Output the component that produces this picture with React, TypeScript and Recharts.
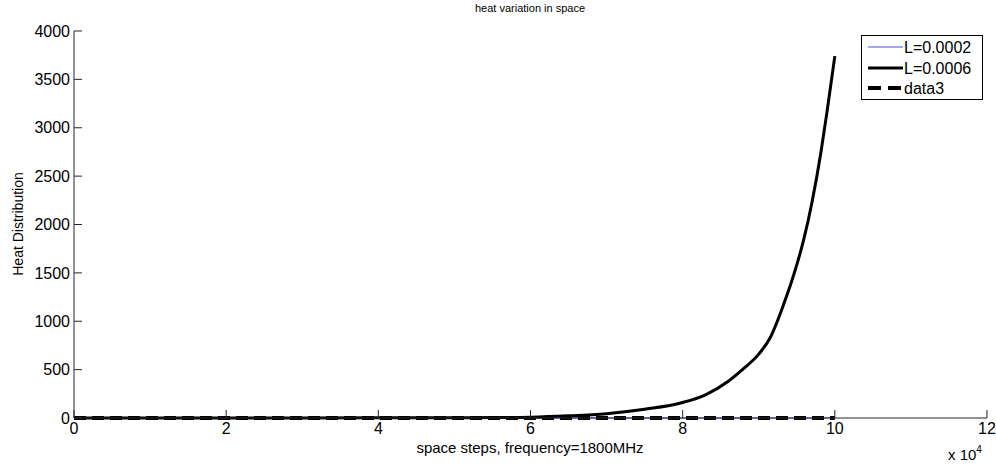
import { LineChart, Line, XAxis, YAxis } from "recharts";

// space steps (raw units, axis shows them as x 10^4)
const steps = [0, 10000, 20000, 30000, 40000, 50000, 55000, 60000, 65000, 70000, 75000, 80000, 83000, 86000, 88000, 90000, 91500, 93300, 94600, 95900, 97000, 98200, 99000, 100000];
const heatL2 = steps.map(() => 0);
const heatL6 = [0, 0, 0.5, 1, 2, 3, 4, 8, 22, 45, 90, 160, 240, 380, 510, 660, 830, 1180, 1480, 1840, 2230, 2760, 3180, 3740];
const data3 = steps.map(() => 0);

const xTicks = [0, 20000, 40000, 60000, 80000, 100000, 120000];
const yTicks = [0, 500, 1000, 1500, 2000, 2500, 3000, 3500, 4000];

const rows = steps.map((s, i) => ({ s, a: heatL2[i], b: heatL6[i], c: data3[i] }));

const FONT = "Arial, 'Liberation Sans', Helvetica, sans-serif";
const AXIS = "#262626";
const BLUE = "#4a4aff";

export default function App() {
  return (
    <div style={{ position: "absolute", left: 0, top: 0, width: 996, height: 464, fontFamily: FONT, background: "#fff", overflow: "hidden" }}>
      <LineChart width={996} height={464} data={rows} margin={{ top: 31, right: 9, bottom: 0, left: 0 }}>
        <XAxis
          dataKey="s"
          type="number"
          domain={[0, 120000]}
          ticks={xTicks}
          interval={0}
          tickFormatter={(v: number) => String(v / 10000)}
          height={46}
          tickSize={-8}
          tickMargin={13}
          stroke={AXIS}
          tick={{ fill: "#000", fontSize: 16, fontFamily: FONT }}
        />
        <YAxis
          type="number"
          domain={[0, 4000]}
          ticks={yTicks}
          interval={0}
          width={74}
          tickSize={-8}
          tickMargin={12}
          stroke={AXIS}
          tick={{ fill: "#000", fontSize: 16, fontFamily: FONT }}
        />
        <Line dataKey="a" stroke={BLUE} strokeWidth={1} dot={false} isAnimationActive={false} />
        <Line type="monotone" dataKey="b" stroke="#000" strokeWidth={3} dot={false} isAnimationActive={false} />
        <Line dataKey="c" stroke="#000" strokeWidth={4} strokeDasharray="12 6" dot={false} isAnimationActive={false} />
      </LineChart>

      <div style={{ position: "absolute", left: 330, width: 400, top: 2, textAlign: "center", fontSize: 11, lineHeight: "13px" }}>
        heat variation in space
      </div>
      <div style={{ position: "absolute", left: 280, width: 500, top: 439, textAlign: "center", fontSize: 15, lineHeight: "18px" }}>
        space steps, frequency=1800MHz
      </div>
      <div style={{ position: "absolute", left: 18, top: 224, width: 0, height: 0 }}>
        <div style={{ position: "absolute", left: -100, top: -9, width: 200, textAlign: "center", fontSize: 14, lineHeight: "18px", transform: "rotate(-90deg)" }}>
          Heat Distribution
        </div>
      </div>
      <div style={{ position: "absolute", left: 948, top: 446, fontSize: 15, lineHeight: "18px", whiteSpace: "nowrap" }}>
        x 10<span style={{ position: "relative", top: -7, fontSize: 10 }}>4</span>
      </div>

      <div style={{ position: "absolute", left: 861, top: 35, width: 120, height: 63, border: "1px solid #000", background: "#fff" }}>
        <svg width={120} height={63} style={{ position: "absolute", left: 0, top: 0 }}>
          <line x1={6} x2={41} y1={11} y2={11} stroke={BLUE} strokeWidth={1.2} />
          <line x1={6} x2={41} y1={32} y2={32} stroke="#000" strokeWidth={3} />
          <line x1={6} x2={41} y1={52} y2={52} stroke="#000" strokeWidth={4} strokeDasharray="13 7" />
          <text x={42} y={11} dy="0.35em" fontSize={16} fontFamily={FONT}>L=0.0002</text>
          <text x={42} y={32} dy="0.35em" fontSize={16} fontFamily={FONT}>L=0.0006</text>
          <text x={42} y={52} dy="0.35em" fontSize={16} fontFamily={FONT}>data3</text>
        </svg>
      </div>
    </div>
  );
}
